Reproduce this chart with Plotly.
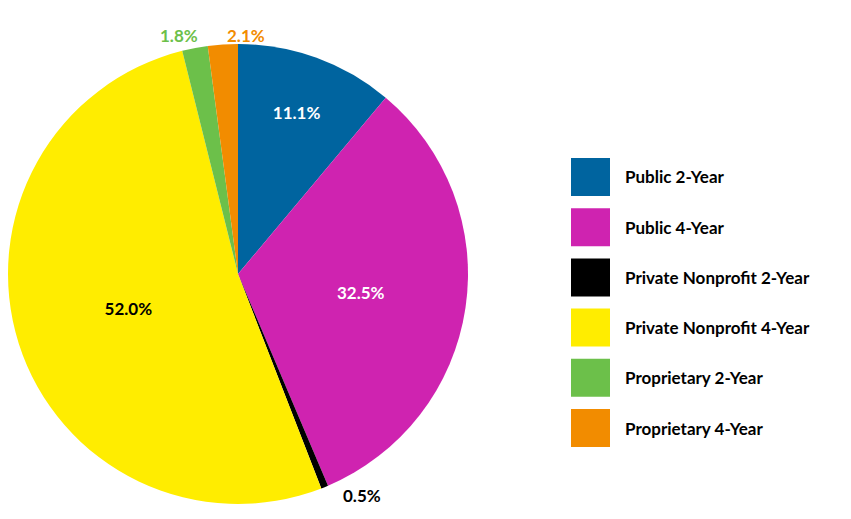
import plotly.graph_objects as go

labels = ["Public 2-Year", "Public 4-Year", "Private Nonprofit 2-Year",
          "Private Nonprofit 4-Year", "Proprietary 2-Year", "Proprietary 4-Year"]
values = [11.1, 32.5, 0.5, 52.0, 1.8, 2.1]
colors = ["#00649f", "#cf23b0", "#000000", "#ffed00", "#6cc04a", "#f28c00"]
text_colors = ["white", "white", "black", "black", "#6cc04a", "#f28c00"]
inside = [True, True, False, True, False, False]
# where the small slices have their labels written (pixels in the picture)
outside_pos = {2: (362, 508), 4: (158, 22), 5: (225, 22)}

OFF = 8  # page body margin
W, H = 851 - 2 * OFF, 519 - 2 * OFF


def px(x):
    return (x - OFF) / W


def py(y):
    return 1 - (y - OFF) / H


texts = [f"{v:.1f}%" if ins else "" for v, ins in zip(values, inside)]

fig = go.Figure(go.Pie(
    labels=labels, values=values, sort=False, direction="clockwise", rotation=0,
    marker=dict(colors=colors, line=dict(width=0)),
    text=texts, textinfo="text", textposition="inside",
    textfont=dict(color=text_colors, size=17, family="Lato", weight="bold"),
    insidetextorientation="horizontal",
    domain=dict(x=[px(8), px(468)], y=[py(507), py(41)]),
    showlegend=False, hoverinfo="label+percent",
))

for i, (x, y) in outside_pos.items():
    fig.add_annotation(x=px(x), y=py(y), xref="paper", yref="paper",
                       text=f"{values[i]:.1f}%", showarrow=False,
                       yanchor="middle", yshift=-13 if y < 100 else 13,
                       font=dict(size=17, family="Lato", weight="bold", color=text_colors[i]))

# legend drawn by hand to get the large swatches
for i, (lab, col) in enumerate(zip(labels, colors)):
    cy = 177 + i * 50.2
    fig.add_shape(type="rect", xref="paper", yref="paper",
                  x0=px(571), x1=px(610), y0=py(cy + 19), y1=py(cy - 19),
                  fillcolor=col, line=dict(width=0))
    fig.add_annotation(x=px(623), y=py(cy), xref="paper", yref="paper",
                       text=lab, showarrow=False, xanchor="left", yanchor="middle",
                       font=dict(size=17, family="Lato", weight="bold", color="black"))

fig.update_layout(width=W, height=H, margin=dict(l=0, r=0, t=0, b=0),
                  paper_bgcolor="white", plot_bgcolor="white")
fig.write_html("out.html")
